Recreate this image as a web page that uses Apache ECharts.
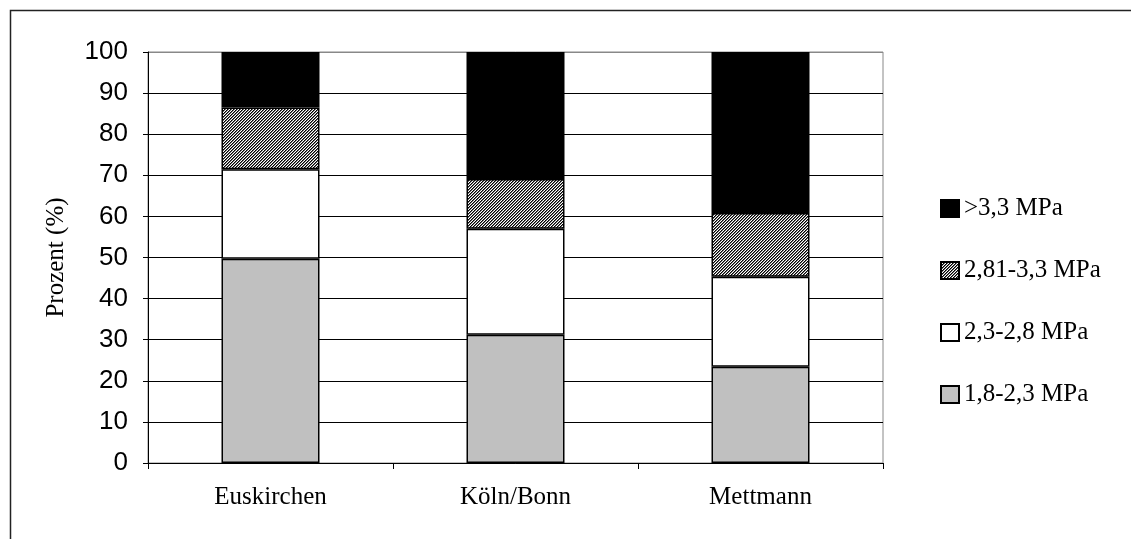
<!DOCTYPE html>
<html>
<head>
<meta charset="utf-8">
<script src="https://cdn.jsdelivr.net/npm/echarts@6/dist/echarts.min.js"></script>
<style>
html,body{margin:0;padding:0;background:#fff;}
#chart{width:1131px;height:539px;}
</style>
</head>
<body>
<div id="chart"></div>
<script>
var categories = ['Euskirchen', 'Köln/Bonn', 'Mettmann'];
var seriesNames = ['1,8-2,3 MPa', '2,3-2,8 MPa', '2,81-3,3 MPa', '>3,3 MPa'];
var s1823 = [49.7, 31.2, 23.4];
var s2328 = [21.8, 25.8, 21.9];
var s2833 = [15.0, 12.1, 15.5];
var s33 = [13.5, 30.9, 39.2];
var yTicks = [0, 10, 20, 30, 40, 50, 60, 70, 80, 90, 100];

// hatch pattern (fine diagonal)
var pc = document.createElement('canvas');
pc.width = 3; pc.height = 3;
var pctx = pc.getContext('2d');
for (var x = 0; x < 3; x++) {
  for (var y = 0; y < 3; y++) {
    var d = (x + y) % 3;
    pctx.fillStyle = d === 0 ? '#000000' : (d === 1 ? '#707070' : '#ffffff');
    pctx.fillRect(x, y, 1, 1);
  }
}

var serif = '"Liberation Serif", "Times New Roman", serif';
var sans = '"Liberation Sans", Arial, sans-serif';

function mk(name, data, color) {
  return {
    name: name, type: 'bar', stack: 'total', data: data,
    barWidth: '40%',
    itemStyle: { color: color, borderColor: '#000', borderWidth: 1.5 },
    emphasis: { disabled: true }
  };
}

var gridColors = yTicks.map(function (v, i) { return i === yTicks.length - 1 ? '#888888' : '#000000'; });

var chart = echarts.init(document.getElementById('chart'), null, { renderer: 'canvas' });
chart.setOption({
  animation: false,
  backgroundColor: '#ffffff',
  graphic: [{
    type: 'rect', left: 8, top: 8, silent: true,
    shape: { width: 1200, height: 600 },
    style: { fill: 'none', stroke: '#222', lineWidth: 1.5 }
  }],
  grid: { left: 148, right: 248, top: 52, bottom: 76, show: true, borderColor: '#888', borderWidth: 1, backgroundColor: 'transparent' },
  legend: {
    orient: 'vertical', left: 940, top: 196, padding: 0,
    itemWidth: 18, itemHeight: 17, itemGap: 37,
    icon: 'rect',
    data: ['>3,3 MPa', '2,81-3,3 MPa', '2,3-2,8 MPa', '1,8-2,3 MPa'],
    textStyle: { fontFamily: serif, fontSize: 25, color: '#000', lineHeight: 25 },
    selectedMode: false
  },
  xAxis: {
    type: 'category', data: categories,
    axisLine: { lineStyle: { color: '#000', width: 1 } },
    axisTick: { show: true, alignWithLabel: false, length: 6, lineStyle: { color: '#000' } },
    axisLabel: { fontFamily: serif, fontSize: 25, color: '#000', margin: 22 },
    splitLine: { show: false }
  },
  yAxis: {
    type: 'value', min: 0, max: 100, interval: 10,
    name: 'Prozent (%)', nameLocation: 'middle', nameGap: 79, nameRotate: 90,
    nameTextStyle: { fontFamily: serif, fontSize: 25, color: '#000' },
    axisLine: { show: true, lineStyle: { color: '#000', width: 1 } },
    axisTick: { show: true, length: 5, lineStyle: { color: '#000' } },
    axisLabel: { fontFamily: sans, fontSize: 26, color: '#000', margin: 20 },
    splitLine: { show: true, lineStyle: { color: gridColors, width: 1 } }
  },
  series: [
    mk(seriesNames[0], s1823, '#c0c0c0'),
    mk(seriesNames[1], s2328, '#ffffff'),
    mk(seriesNames[2], s2833, { image: pc, repeat: 'repeat' }),
    mk(seriesNames[3], s33, '#000000')
  ]
});
</script>
</body>
</html>
